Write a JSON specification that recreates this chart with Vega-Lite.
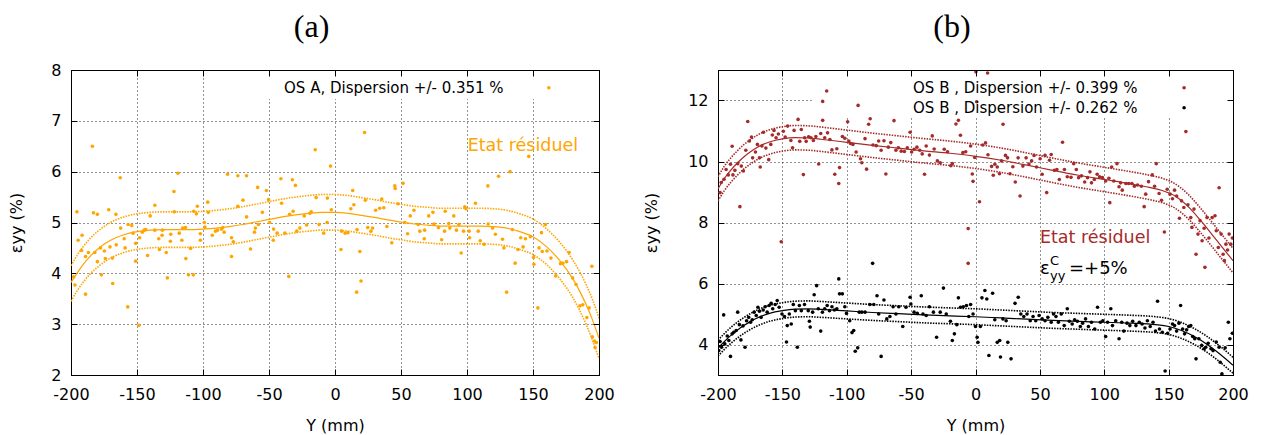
{
"$schema": "https://vega.github.io/schema/vega-lite/v6.json",
"padding": {"left": 8, "top": 10, "right": 5, "bottom": 5},
"background": "white",
"bounds": "flush",
"spacing": 119,
"config": {
 "view": {"stroke": "#000", "strokeWidth": 1},
 "axis": {"labelFont": "DejaVu Sans", "labelFontSize": 16, "labelColor": "#000", "titleFont": "DejaVu Sans", "titleFontSize": 16, "titleFontWeight": "normal", "titleColor": "#000", "tickColor": "#000", "tickSize": -6, "domainColor": "#000", "gridColor": "#000", "gridDash": [1, 3], "gridOpacity": 0.85, "labelFlush": false, "labelOverlap": false, "labelExpr": "replace(datum.label, '\u2212', '-')"},
 "title": {"font": "Liberation Serif", "fontSize": 32, "fontWeight": "normal", "color": "#000", "anchor": "middle", "frame": "bounds"}
},
"datasets": {
 "a_pts": [{"x":-198,"y":3.93},{"x":-197,"y":3.77},{"x":-195.5,"y":5.21},{"x":-194.6,"y":4.65},{"x":-191.6,"y":4.75},{"x":-192,"y":4.45},{"x":-189,"y":4.33},{"x":-189,"y":3.59},{"x":-186.8,"y":4.41},{"x":-183.8,"y":6.5},{"x":-183,"y":5.19},{"x":-182,"y":4.41},{"x":-180,"y":5.16},{"x":-180,"y":4.23},{"x":-177.7,"y":4.5},{"x":-177,"y":3.97},{"x":-174.7,"y":4.44},{"x":-174,"y":4.29},{"x":-171.4,"y":5.25},{"x":-170.5,"y":4.52},{"x":-168.7,"y":4.3},{"x":-168.4,"y":3.8},{"x":-166,"y":5.16},{"x":-165.7,"y":4.56},{"x":-162.7,"y":5.88},{"x":-162.4,"y":4.89},{"x":-159.7,"y":4.68},{"x":-159,"y":4.5},{"x":-157,"y":3.34},{"x":-156.7,"y":4.96},{"x":-154,"y":4.94},{"x":-153,"y":4.79},{"x":-151,"y":4.24},{"x":-151,"y":4.59},{"x":-148.5,"y":2.98},{"x":-148,"y":4.7},{"x":-146,"y":4.81},{"x":-144.6,"y":4.85},{"x":-143.4,"y":4.86},{"x":-142,"y":4.35},{"x":-140,"y":5.13},{"x":-136.5,"y":5.34},{"x":-136.5,"y":4.85},{"x":-133.5,"y":4.68},{"x":-133,"y":4.47},{"x":-131,"y":4.75},{"x":-130.8,"y":4.85},{"x":-127.8,"y":4.41},{"x":-127,"y":3.91},{"x":-124.7,"y":4.63},{"x":-124.4,"y":4.77},{"x":-122,"y":5.61},{"x":-121.7,"y":5.21},{"x":-119,"y":5.97},{"x":-118,"y":4.79},{"x":-116,"y":4.65},{"x":-115.4,"y":4.89},{"x":-113.3,"y":4.9},{"x":-113,"y":4.29},{"x":-111,"y":3.97},{"x":-109.4,"y":4.49},{"x":-107.3,"y":3.97},{"x":-107,"y":5.22},{"x":-105,"y":5.17},{"x":-104.3,"y":5.32},{"x":-102,"y":4.78},{"x":-102,"y":4.65},{"x":-99,"y":5.0},{"x":-98.5,"y":4.91},{"x":-96.4,"y":5.4},{"x":-96,"y":5.2},{"x":-93,"y":4.75},{"x":-90.5,"y":4.83},{"x":-89,"y":4.85},{"x":-86,"y":4.87},{"x":-85,"y":4.9},{"x":-84,"y":4.81},{"x":-81.4,"y":5.95},{"x":-78.4,"y":4.7},{"x":-78.4,"y":4.33},{"x":-77,"y":4.62},{"x":-73.6,"y":5.92},{"x":-73.6,"y":5.32},{"x":-69.7,"y":5.44},{"x":-67,"y":5.92},{"x":-67,"y":5.11},{"x":-64,"y":4.48},{"x":-61,"y":4.81},{"x":-60.3,"y":4.89},{"x":-58.6,"y":5.69},{"x":-58,"y":4.96},{"x":-55,"y":5.2},{"x":-52,"y":5.63},{"x":-50.4,"y":5.45},{"x":-49.5,"y":5.0},{"x":-46.8,"y":4.65},{"x":-46.5,"y":4.87},{"x":-43.8,"y":4.79},{"x":-41,"y":5.86},{"x":-40.5,"y":5.38},{"x":-38,"y":4.79},{"x":-35,"y":3.94},{"x":-34.4,"y":5.16},{"x":-32.3,"y":5.84},{"x":-31.7,"y":5.22},{"x":-30,"y":5.73},{"x":-29,"y":4.83},{"x":-26.6,"y":4.89},{"x":-23.3,"y":5.13},{"x":-21.5,"y":4.95},{"x":-19,"y":5.18},{"x":-18,"y":5.21},{"x":-15,"y":6.43},{"x":-14.3,"y":5.49},{"x":-12,"y":4.96},{"x":-8.6,"y":4.79},{"x":-6,"y":5.0},{"x":-5.8,"y":5.48},{"x":-3.4,"y":6.11},{"x":-2.8,"y":5.25},{"x":4.5,"y":4.47},{"x":5,"y":4.83},{"x":7.7,"y":4.79},{"x":9.8,"y":4.8},{"x":12,"y":5.27},{"x":13.4,"y":5.63},{"x":14.3,"y":5.35},{"x":16.4,"y":3.63},{"x":16.7,"y":4.86},{"x":18.8,"y":4.43},{"x":19.7,"y":3.85},{"x":22.4,"y":6.77},{"x":23,"y":5.44},{"x":24.8,"y":4.9},{"x":27.2,"y":4.83},{"x":28.5,"y":4.89},{"x":30.8,"y":5.24},{"x":33.9,"y":5.28},{"x":35.4,"y":5.46},{"x":37,"y":5.29},{"x":39.3,"y":4.92},{"x":43,"y":4.6},{"x":45.3,"y":5.72},{"x":45.6,"y":5.67},{"x":47.7,"y":5.37},{"x":51.6,"y":5.77},{"x":52.8,"y":5.0},{"x":55,"y":4.78},{"x":57,"y":5.13},{"x":59.8,"y":5.24},{"x":63,"y":4.96},{"x":64.3,"y":4.83},{"x":67.6,"y":4.68},{"x":67.9,"y":4.85},{"x":71,"y":5.13},{"x":74.2,"y":5.2},{"x":75,"y":4.97},{"x":78.4,"y":4.9},{"x":80.8,"y":4.66},{"x":83,"y":4.83},{"x":83.5,"y":5.22},{"x":86.2,"y":4.98},{"x":87,"y":4.89},{"x":90,"y":5.13},{"x":92,"y":4.85},{"x":93.8,"y":4.96},{"x":95.6,"y":4.4},{"x":97.4,"y":4.83},{"x":98.3,"y":5.31},{"x":99.2,"y":5.27},{"x":101.6,"y":4.83},{"x":102,"y":4.7},{"x":106.4,"y":5.38},{"x":108.5,"y":4.83},{"x":110,"y":4.64},{"x":113,"y":4.57},{"x":115.8,"y":5.72},{"x":116,"y":4.97},{"x":119.4,"y":4.89},{"x":121.5,"y":4.77},{"x":123.9,"y":5.91},{"x":126.9,"y":4.67},{"x":128,"y":4.5},{"x":130,"y":3.63},{"x":132.6,"y":6.0},{"x":134.4,"y":4.86},{"x":136.5,"y":4.2},{"x":138.6,"y":4.47},{"x":140.7,"y":4.7},{"x":142.5,"y":4.52},{"x":144.3,"y":4.68},{"x":146.8,"y":6.3},{"x":148,"y":4.72},{"x":150.4,"y":4.31},{"x":150.7,"y":4.18},{"x":153.7,"y":3.32},{"x":154.6,"y":4.5},{"x":156.4,"y":4.8},{"x":157,"y":4.43},{"x":159.4,"y":4.96},{"x":160.6,"y":4.44},{"x":163.6,"y":4.3},{"x":167.2,"y":3.95},{"x":170.8,"y":4.19},{"x":172.6,"y":4.2},{"x":175.4,"y":4.23},{"x":177.4,"y":4.41},{"x":180,"y":3.91},{"x":182.6,"y":3.78},{"x":185.6,"y":3.36},{"x":187.7,"y":3.38},{"x":190.8,"y":3.13},{"x":192.5,"y":3.32},{"x":194.6,"y":4.14},{"x":195,"y":2.75},{"x":196.4,"y":2.67},{"x":197,"y":2.54},{"x":198,"y":2.64}],
 "a_fit": [{"x":-200,"y":3.82,"lo":3.45,"hi":4.15},{"x":-195,"y":4.02,"lo":3.67,"hi":4.37},{"x":-190,"y":4.2,"lo":3.85,"hi":4.55},{"x":-185,"y":4.35,"lo":4.0,"hi":4.7},{"x":-180,"y":4.47,"lo":4.12,"hi":4.82},{"x":-175,"y":4.57,"lo":4.22,"hi":4.92},{"x":-170,"y":4.65,"lo":4.3,"hi":5.0},{"x":-160,"y":4.76,"lo":4.41,"hi":5.11},{"x":-150,"y":4.82,"lo":4.47,"hi":5.17},{"x":-140,"y":4.85,"lo":4.5,"hi":5.2},{"x":-130,"y":4.86,"lo":4.51,"hi":5.21},{"x":-120,"y":4.86,"lo":4.51,"hi":5.21},{"x":-110,"y":4.86,"lo":4.51,"hi":5.21},{"x":-100,"y":4.87,"lo":4.52,"hi":5.22},{"x":-90,"y":4.89,"lo":4.54,"hi":5.24},{"x":-80,"y":4.92,"lo":4.57,"hi":5.27},{"x":-70,"y":4.96,"lo":4.61,"hi":5.31},{"x":-60,"y":5.01,"lo":4.66,"hi":5.36},{"x":-50,"y":5.06,"lo":4.71,"hi":5.41},{"x":-40,"y":5.11,"lo":4.76,"hi":5.46},{"x":-30,"y":5.15,"lo":4.8,"hi":5.5},{"x":-20,"y":5.18,"lo":4.83,"hi":5.53},{"x":-10,"y":5.2,"lo":4.85,"hi":5.55},{"x":0,"y":5.2,"lo":4.85,"hi":5.55},{"x":10,"y":5.18,"lo":4.83,"hi":5.53},{"x":20,"y":5.14,"lo":4.79,"hi":5.49},{"x":30,"y":5.1,"lo":4.75,"hi":5.45},{"x":40,"y":5.05,"lo":4.7,"hi":5.4},{"x":50,"y":5.01,"lo":4.66,"hi":5.36},{"x":60,"y":4.97,"lo":4.62,"hi":5.32},{"x":70,"y":4.95,"lo":4.6,"hi":5.3},{"x":80,"y":4.93,"lo":4.58,"hi":5.28},{"x":90,"y":4.93,"lo":4.58,"hi":5.28},{"x":100,"y":4.93,"lo":4.58,"hi":5.28},{"x":110,"y":4.93,"lo":4.58,"hi":5.28},{"x":120,"y":4.92,"lo":4.57,"hi":5.27},{"x":130,"y":4.89,"lo":4.54,"hi":5.24},{"x":140,"y":4.82,"lo":4.47,"hi":5.17},{"x":150,"y":4.72,"lo":4.37,"hi":5.07},{"x":160,"y":4.53,"lo":4.18,"hi":4.88},{"x":170,"y":4.26,"lo":3.9,"hi":4.62},{"x":180,"y":3.9,"lo":3.53,"hi":4.27},{"x":185,"y":3.67,"lo":3.29,"hi":4.05},{"x":190,"y":3.4,"lo":3.01,"hi":3.79},{"x":195,"y":3.09,"lo":2.69,"hi":3.49},{"x":200,"y":2.72,"lo":2.32,"hi":3.12}],
 "b_red": [{"x":-198.4,"y":8.98},{"x":-197.5,"y":9.31},{"x":-195.3,"y":9.42},{"x":-193.7,"y":9.74},{"x":-192,"y":9.56},{"x":-190.3,"y":9.91},{"x":-189,"y":10.5},{"x":-188.4,"y":9.56},{"x":-186.9,"y":9.71},{"x":-184.7,"y":9.93},{"x":-183,"y":8.52},{"x":-181.9,"y":9.85},{"x":-180.3,"y":9.69},{"x":-178.4,"y":10.37},{"x":-176.9,"y":11.31},{"x":-175.6,"y":10.67},{"x":-174,"y":10.8},{"x":-173.1,"y":10.12},{"x":-170.9,"y":10.31},{"x":-169.4,"y":10.56},{"x":-167.8,"y":10.12},{"x":-167.2,"y":9.82},{"x":-165.9,"y":10.51},{"x":-164.7,"y":10.96},{"x":-162.8,"y":10.44},{"x":-160.6,"y":10.06},{"x":-159,"y":10.56},{"x":-157.8,"y":10.87},{"x":-156.5,"y":11.02},{"x":-154.9,"y":10.78},{"x":-153.1,"y":10.9},{"x":-150.9,"y":7.37},{"x":-149.3,"y":10.99},{"x":-147.8,"y":10.8},{"x":-145.9,"y":11.16},{"x":-143.4,"y":10.69},{"x":-142.1,"y":10.45},{"x":-140.9,"y":11.02},{"x":-137.8,"y":11.38},{"x":-136.5,"y":10.66},{"x":-135.3,"y":11.05},{"x":-133.7,"y":9.57},{"x":-132.7,"y":10.78},{"x":-131.5,"y":10.66},{"x":-129.6,"y":10.81},{"x":-127.8,"y":10.78},{"x":-125.9,"y":10.69},{"x":-124,"y":10.82},{"x":-121.8,"y":9.92},{"x":-120.2,"y":10.92},{"x":-118.7,"y":11.97},{"x":-118.7,"y":11.35},{"x":-117.1,"y":10.78},{"x":-115.6,"y":12.31},{"x":-114.9,"y":10.94},{"x":-113.1,"y":10.72},{"x":-111.5,"y":10.38},{"x":-109.3,"y":9.58},{"x":-107.7,"y":10.42},{"x":-106.2,"y":9.28},{"x":-105.6,"y":9.8},{"x":-103.4,"y":10.82},{"x":-101.5,"y":10.76},{"x":-99.3,"y":11.3},{"x":-98.4,"y":10.67},{"x":-97.1,"y":10.59},{"x":-95.2,"y":10.56},{"x":-92.7,"y":10.31},{"x":-91.2,"y":11.84},{"x":-89.3,"y":10.09},{"x":-88.3,"y":9.96},{"x":-85.8,"y":10.75},{"x":-84.6,"y":9.75},{"x":-83,"y":11.22},{"x":-81.8,"y":11.4},{"x":-79.6,"y":10.54},{"x":-77.1,"y":10.52},{"x":-75.2,"y":10.67},{"x":-73.3,"y":10.37},{"x":-71.1,"y":10.68},{"x":-69.6,"y":9.59},{"x":-67.7,"y":10.47},{"x":-65.8,"y":10.62},{"x":-63.3,"y":11.34},{"x":-61.8,"y":10.37},{"x":-59.9,"y":10.45},{"x":-57.7,"y":10.34},{"x":-55.2,"y":10.33},{"x":-53,"y":10.45},{"x":-50.8,"y":10.96},{"x":-49.6,"y":10.31},{"x":-47.7,"y":10.4},{"x":-45.5,"y":10.47},{"x":-43.3,"y":10.37},{"x":-41.4,"y":10.25},{"x":-39.6,"y":9.58},{"x":-38.3,"y":10.51},{"x":-35.8,"y":10.21},{"x":-33.6,"y":10.84},{"x":-32.1,"y":10.41},{"x":-29.6,"y":10.02},{"x":-27.4,"y":9.96},{"x":-24.3,"y":10.4},{"x":-21.7,"y":10.32},{"x":-19.2,"y":9.86},{"x":-18,"y":9.93},{"x":-15.2,"y":11.23},{"x":-13.3,"y":11.35},{"x":-11.7,"y":10.86},{"x":-9.8,"y":10.29},{"x":-7.6,"y":10.32},{"x":-5.7,"y":7.8},{"x":-5.7,"y":6.66},{"x":-3.8,"y":10.51},{"x":-2.5,"y":9.59},{"x":-1.9,"y":9.35},{"x":-0.6,"y":10.13},{"x":0.3,"y":12.94},{"x":0.9,"y":11.96},{"x":3.1,"y":8.68},{"x":5.6,"y":10.54},{"x":7.8,"y":10.61},{"x":9.4,"y":12.9},{"x":9.7,"y":10.22},{"x":12.5,"y":9.84},{"x":13.8,"y":9.55},{"x":15,"y":9.91},{"x":16.9,"y":9.82},{"x":18.6,"y":9.6},{"x":20.2,"y":10.02},{"x":21.4,"y":11.22},{"x":23.3,"y":10.2},{"x":24.9,"y":10.12},{"x":26.8,"y":9.6},{"x":29,"y":9.83},{"x":30.9,"y":9.33},{"x":33.1,"y":10.12},{"x":34.6,"y":8.87},{"x":36.8,"y":9.85},{"x":39.3,"y":10.12},{"x":41.5,"y":9.92},{"x":43.6,"y":10.02},{"x":45.5,"y":10.2},{"x":47.4,"y":9.82},{"x":50.2,"y":10.09},{"x":51.8,"y":9.58},{"x":54,"y":10.2},{"x":55.3,"y":8.98},{"x":57.5,"y":10.04},{"x":58.8,"y":10.23},{"x":61.3,"y":9.71},{"x":63.2,"y":9.74},{"x":65.1,"y":9.41},{"x":67.6,"y":10.63},{"x":69.1,"y":9.74},{"x":71.3,"y":9.5},{"x":74.2,"y":9.48},{"x":76.3,"y":9.93},{"x":78.3,"y":9.74},{"x":80.1,"y":9.47},{"x":82.3,"y":9.53},{"x":84.8,"y":9.33},{"x":87,"y":9.47},{"x":88.9,"y":9.66},{"x":90.1,"y":9.3},{"x":92.3,"y":9.41},{"x":94.5,"y":9.58},{"x":96.4,"y":9.5},{"x":98.6,"y":9.47},{"x":101.1,"y":9.36},{"x":103.6,"y":9.45},{"x":104.3,"y":8.65},{"x":105.8,"y":9.82},{"x":107.4,"y":9.36},{"x":109.9,"y":9.93},{"x":111.5,"y":9.17},{"x":112.7,"y":9.3},{"x":114,"y":9.06},{"x":116.8,"y":9.28},{"x":119,"y":9.28},{"x":121.5,"y":9.28},{"x":123.4,"y":9.19},{"x":125.9,"y":9.23},{"x":128.8,"y":9.19},{"x":131,"y":8.52},{"x":132.2,"y":8.93},{"x":134.4,"y":9.34},{"x":137.3,"y":9.56},{"x":139.1,"y":9.19},{"x":140.4,"y":9.93},{"x":142.6,"y":8.95},{"x":144.5,"y":8.73},{"x":146.7,"y":7.69},{"x":148.9,"y":9.09},{"x":151.1,"y":8.93},{"x":153,"y":8.78},{"x":154.6,"y":9.06},{"x":156.2,"y":8.87},{"x":158.4,"y":8.14},{"x":160,"y":8.71},{"x":161.8,"y":8.49},{"x":163.4,"y":10.98},{"x":165,"y":8.58},{"x":167.2,"y":8.16},{"x":168.1,"y":7.84},{"x":169.7,"y":8.44},{"x":171.3,"y":6.96},{"x":172.8,"y":7.62},{"x":174.4,"y":8.06},{"x":176,"y":7.4},{"x":177.6,"y":7.81},{"x":178.2,"y":6.53},{"x":179.8,"y":8.16},{"x":181.3,"y":7.49},{"x":183.8,"y":8.16},{"x":186,"y":8.22},{"x":187,"y":7.73},{"x":188.6,"y":7.18},{"x":189.2,"y":9.14},{"x":190.8,"y":7.62},{"x":192.3,"y":6.96},{"x":193.3,"y":6.75},{"x":194.5,"y":7.29},{"x":195.8,"y":7.1},{"x":197,"y":7.62},{"x":198.3,"y":7.29},{"x":199.5,"y":7.49}],
 "b_blk": [{"x":-199.4,"y":3.8},{"x":-198.4,"y":4.1},{"x":-197.2,"y":3.91},{"x":-195.6,"y":4.97},{"x":-194.7,"y":4.02},{"x":-192.8,"y":4.28},{"x":-191.6,"y":4.13},{"x":-190.3,"y":3.61},{"x":-189,"y":4.35},{"x":-187.8,"y":4.4},{"x":-185.9,"y":4.46},{"x":-184.7,"y":5.06},{"x":-183.4,"y":4.65},{"x":-182.2,"y":4.15},{"x":-180.6,"y":4.61},{"x":-179,"y":3.91},{"x":-177.8,"y":4.78},{"x":-176.2,"y":4.89},{"x":-174.7,"y":4.73},{"x":-173.4,"y":4.81},{"x":-171.9,"y":5.06},{"x":-170.3,"y":4.95},{"x":-169,"y":5.22},{"x":-167.8,"y":5.09},{"x":-166.5,"y":4.89},{"x":-164.9,"y":5.13},{"x":-163.4,"y":5.24},{"x":-161.8,"y":5.06},{"x":-160.3,"y":5.28},{"x":-158.7,"y":5.35},{"x":-157.5,"y":5.17},{"x":-155.6,"y":5.31},{"x":-154,"y":5.44},{"x":-152.5,"y":5.22},{"x":-150.3,"y":5.0},{"x":-148.4,"y":4.92},{"x":-146.8,"y":4.08},{"x":-146.2,"y":4.62},{"x":-144.6,"y":5.0},{"x":-143.1,"y":4.67},{"x":-141.5,"y":5.31},{"x":-139.9,"y":5.11},{"x":-138.4,"y":3.91},{"x":-136.8,"y":5.28},{"x":-135.3,"y":5.11},{"x":-132.8,"y":5.31},{"x":-129.9,"y":5.11},{"x":-129,"y":4.76},{"x":-128.4,"y":4.57},{"x":-126.5,"y":5.06},{"x":-125.3,"y":5.63},{"x":-123.4,"y":5.93},{"x":-122.1,"y":5.17},{"x":-120.2,"y":4.44},{"x":-118.9,"y":5.06},{"x":-117.1,"y":5.17},{"x":-115.2,"y":5.28},{"x":-113.4,"y":5.11},{"x":-111.5,"y":5.24},{"x":-109.6,"y":5.13},{"x":-107.7,"y":5.17},{"x":-106.2,"y":6.15},{"x":-105.6,"y":5.66},{"x":-103.4,"y":5.66},{"x":-101.5,"y":5.24},{"x":-100.2,"y":5.02},{"x":-97.7,"y":4.78},{"x":-95.9,"y":4.39},{"x":-94.6,"y":4.46},{"x":-93.4,"y":3.78},{"x":-91.5,"y":3.89},{"x":-90.3,"y":5.06},{"x":-88.3,"y":5.06},{"x":-85.8,"y":5.06},{"x":-82.1,"y":5.31},{"x":-79.9,"y":6.66},{"x":-79,"y":5.31},{"x":-76.5,"y":5.6},{"x":-75.2,"y":5.0},{"x":-73.3,"y":3.61},{"x":-71.1,"y":5.46},{"x":-68.9,"y":4.84},{"x":-66.5,"y":4.92},{"x":-64,"y":5.24},{"x":-61.8,"y":5.0},{"x":-59.6,"y":5.24},{"x":-56.5,"y":4.59},{"x":-54,"y":5.22},{"x":-50.8,"y":5.55},{"x":-50.2,"y":5.33},{"x":-47.7,"y":5.06},{"x":-45.2,"y":5.02},{"x":-42.1,"y":5.6},{"x":-40.8,"y":5.0},{"x":-38.3,"y":4.95},{"x":-35.8,"y":5.24},{"x":-32.7,"y":5.06},{"x":-30.2,"y":4.24},{"x":-27.4,"y":5.06},{"x":-24.9,"y":5.85},{"x":-22.7,"y":5.0},{"x":-19.5,"y":4.76},{"x":-18,"y":4.13},{"x":-16.4,"y":4.35},{"x":-14.5,"y":4.65},{"x":-13.3,"y":5.53},{"x":-11.7,"y":5.22},{"x":-9.5,"y":5.24},{"x":-7,"y":5.28},{"x":-5.2,"y":4.92},{"x":-3.8,"y":5.31},{"x":-1.9,"y":5.0},{"x":0,"y":4.59},{"x":1.3,"y":4.24},{"x":1.9,"y":4.07},{"x":3.8,"y":4.59},{"x":5,"y":5.53},{"x":7.3,"y":5.77},{"x":8.8,"y":5.49},{"x":10.4,"y":3.64},{"x":13.3,"y":5.68},{"x":15,"y":4.81},{"x":16.9,"y":4.07},{"x":18.8,"y":4.13},{"x":19.4,"y":3.59},{"x":21.3,"y":4.84},{"x":23.8,"y":4.78},{"x":25.1,"y":4.07},{"x":27.6,"y":3.53},{"x":30.7,"y":5.35},{"x":33.2,"y":5.55},{"x":35.2,"y":5.0},{"x":37.5,"y":4.92},{"x":40,"y":5.0},{"x":42.5,"y":4.78},{"x":44.7,"y":4.92},{"x":46.8,"y":4.78},{"x":49.4,"y":4.95},{"x":51.8,"y":4.84},{"x":54,"y":4.78},{"x":56.2,"y":4.89},{"x":58.8,"y":4.73},{"x":60.6,"y":5.0},{"x":62.5,"y":4.92},{"x":64.4,"y":4.73},{"x":66.6,"y":5.0},{"x":68.9,"y":4.62},{"x":71.3,"y":5.17},{"x":72.9,"y":4.76},{"x":75.1,"y":4.67},{"x":77,"y":4.81},{"x":79.1,"y":4.76},{"x":81.4,"y":4.59},{"x":83.2,"y":4.7},{"x":85.5,"y":4.84},{"x":87.7,"y":4.59},{"x":90.1,"y":4.73},{"x":92.6,"y":4.51},{"x":94.8,"y":5.22},{"x":97,"y":4.73},{"x":98.9,"y":4.78},{"x":101.1,"y":4.26},{"x":102.6,"y":4.73},{"x":105.1,"y":5.17},{"x":106.4,"y":4.62},{"x":108.9,"y":4.78},{"x":111.5,"y":4.19},{"x":113.6,"y":4.73},{"x":115.2,"y":4.44},{"x":117.7,"y":4.7},{"x":119.9,"y":4.62},{"x":122.1,"y":4.76},{"x":124.6,"y":4.62},{"x":127.2,"y":4.73},{"x":129.4,"y":4.67},{"x":131.6,"y":4.54},{"x":133.5,"y":4.78},{"x":135.7,"y":4.59},{"x":137.9,"y":4.73},{"x":139.8,"y":4.44},{"x":141.4,"y":5.42},{"x":142.9,"y":4.51},{"x":145.1,"y":4.4},{"x":147.3,"y":3.13},{"x":149.2,"y":4.37},{"x":151.1,"y":4.51},{"x":153,"y":4.67},{"x":154.6,"y":4.62},{"x":156.2,"y":4.44},{"x":158,"y":4.7},{"x":159.3,"y":5.28},{"x":160.9,"y":4.51},{"x":162.4,"y":4.35},{"x":164,"y":4.48},{"x":165.6,"y":4.59},{"x":167.2,"y":4.62},{"x":168.7,"y":4.26},{"x":170.3,"y":4.19},{"x":171.3,"y":3.53},{"x":173.5,"y":4.19},{"x":175.7,"y":3.97},{"x":177.6,"y":3.86},{"x":178.8,"y":3.91},{"x":180.7,"y":4.04},{"x":182.9,"y":3.86},{"x":184.5,"y":3.8},{"x":187,"y":4.08},{"x":189.2,"y":3.91},{"x":190.1,"y":3.42},{"x":191.4,"y":3.04},{"x":193.9,"y":3.89},{"x":196.4,"y":4.73},{"x":197.6,"y":4.19},{"x":199.5,"y":4.37}],
 "b_redfit": [{"x":-200,"y":9.1,"lo":8.7,"hi":9.5},{"x":-195,"y":9.45,"lo":9.05,"hi":9.85},{"x":-190,"y":9.72,"lo":9.32,"hi":10.12},{"x":-185,"y":9.95,"lo":9.55,"hi":10.35},{"x":-180,"y":10.15,"lo":9.75,"hi":10.55},{"x":-175,"y":10.31,"lo":9.91,"hi":10.71},{"x":-170,"y":10.45,"lo":10.05,"hi":10.85},{"x":-165,"y":10.56,"lo":10.16,"hi":10.96},{"x":-160,"y":10.64,"lo":10.24,"hi":11.04},{"x":-150,"y":10.74,"lo":10.34,"hi":11.14},{"x":-140,"y":10.78,"lo":10.38,"hi":11.18},{"x":-130,"y":10.77,"lo":10.37,"hi":11.17},{"x":-120,"y":10.73,"lo":10.33,"hi":11.13},{"x":-110,"y":10.68,"lo":10.28,"hi":11.08},{"x":-100,"y":10.63,"lo":10.23,"hi":11.03},{"x":-80,"y":10.53,"lo":10.13,"hi":10.93},{"x":-60,"y":10.44,"lo":10.04,"hi":10.84},{"x":-40,"y":10.35,"lo":9.95,"hi":10.75},{"x":-20,"y":10.27,"lo":9.87,"hi":10.67},{"x":0,"y":10.17,"lo":9.77,"hi":10.57},{"x":20,"y":10.04,"lo":9.64,"hi":10.44},{"x":40,"y":9.88,"lo":9.48,"hi":10.28},{"x":60,"y":9.71,"lo":9.31,"hi":10.11},{"x":80,"y":9.55,"lo":9.15,"hi":9.95},{"x":100,"y":9.41,"lo":9.01,"hi":9.81},{"x":120,"y":9.27,"lo":8.87,"hi":9.67},{"x":135,"y":9.15,"lo":8.75,"hi":9.55},{"x":145,"y":9.05,"lo":8.65,"hi":9.45},{"x":155,"y":8.87,"lo":8.47,"hi":9.27},{"x":165,"y":8.53,"lo":8.13,"hi":8.93},{"x":175,"y":8.06,"lo":7.66,"hi":8.46},{"x":185,"y":7.54,"lo":7.14,"hi":7.94},{"x":192,"y":7.17,"lo":6.77,"hi":7.57},{"x":200,"y":6.75,"lo":6.35,"hi":7.15}],
 "b_blkfit": [{"x":-200,"y":3.88,"lo":3.62,"hi":4.14},{"x":-195,"y":4.1,"lo":3.84,"hi":4.36},{"x":-190,"y":4.3,"lo":4.04,"hi":4.56},{"x":-185,"y":4.47,"lo":4.21,"hi":4.73},{"x":-180,"y":4.62,"lo":4.36,"hi":4.88},{"x":-175,"y":4.75,"lo":4.49,"hi":5.01},{"x":-170,"y":4.86,"lo":4.6,"hi":5.12},{"x":-160,"y":5.02,"lo":4.76,"hi":5.28},{"x":-150,"y":5.11,"lo":4.85,"hi":5.37},{"x":-140,"y":5.16,"lo":4.9,"hi":5.42},{"x":-130,"y":5.17,"lo":4.91,"hi":5.43},{"x":-120,"y":5.15,"lo":4.89,"hi":5.41},{"x":-100,"y":5.1,"lo":4.84,"hi":5.36},{"x":-80,"y":5.05,"lo":4.79,"hi":5.31},{"x":-60,"y":5.01,"lo":4.75,"hi":5.27},{"x":-40,"y":4.97,"lo":4.71,"hi":5.23},{"x":-20,"y":4.94,"lo":4.68,"hi":5.2},{"x":0,"y":4.91,"lo":4.65,"hi":5.17},{"x":20,"y":4.87,"lo":4.61,"hi":5.13},{"x":40,"y":4.83,"lo":4.57,"hi":5.09},{"x":60,"y":4.79,"lo":4.53,"hi":5.05},{"x":80,"y":4.76,"lo":4.5,"hi":5.02},{"x":100,"y":4.73,"lo":4.47,"hi":4.99},{"x":120,"y":4.7,"lo":4.44,"hi":4.96},{"x":140,"y":4.65,"lo":4.39,"hi":4.91},{"x":150,"y":4.59,"lo":4.33,"hi":4.85},{"x":160,"y":4.46,"lo":4.2,"hi":4.72},{"x":170,"y":4.26,"lo":4.0,"hi":4.52},{"x":180,"y":4.0,"lo":3.74,"hi":4.26},{"x":190,"y":3.68,"lo":3.42,"hi":3.94},{"x":200,"y":3.32,"lo":3.06,"hi":3.58}]
},
"hconcat": [
 {
  "width": 528, "height": 305,
  "title": {"text": "(a)", "offset": 18},
  "encoding": {
   "x": {"field": "x", "type": "quantitative", "scale": {"domain": [-200, 200], "nice": false, "zero": false}, "axis": null},
   "y": {"field": "y", "type": "quantitative", "scale": {"domain": [2, 8], "nice": false, "zero": false}, "axis": null}
  },
  "resolve": {"axis": {"x": "independent", "y": "independent"}},
  "layer": [
   {"data": {"values": [{"x": -55, "x2": 200, "y": 7.43, "y2": 8}]},
    "mark": {"type": "rect", "fill": "white", "stroke": null},
    "encoding": {
     "x": {"field": "x", "type": "quantitative", "scale": {"domain": [-200, 200], "nice": false, "zero": false}, "axis": {"values": [-200,-150,-100,-50,0,50,100,150,200], "title": "Y (mm)", "grid": true, "labelPadding": 17, "titlePadding": 15}},
     "x2": {"field": "x2"},
     "y": {"field": "y", "type": "quantitative", "scale": {"domain": [2, 8], "nice": false, "zero": false}, "axis": {"values": [2,3,4,5,6,7,8], "title": "εyy (%)", "grid": true, "labelPadding": 16, "titlePadding": 26}},
     "y2": {"field": "y2"}
    }},
   {"data": {"name": "a_fit"},
    "mark": {"type": "line", "color": "#ffa500", "strokeWidth": 1.2, "interpolate": "monotone", "clip": true},
    "encoding": {
     "x": {"field": "x", "type": "quantitative", "scale": {"domain": [-200, 200], "nice": false, "zero": false}, "axis": {"orient": "top", "values": [-200,-150,-100,-50,0,50,100,150,200], "labels": false, "grid": false, "title": null, "zindex": 1}},
     "y": {"field": "y", "type": "quantitative", "scale": {"domain": [2, 8], "nice": false, "zero": false}, "axis": {"orient": "right", "values": [2,3,4,5,6,7,8], "labels": false, "grid": false, "title": null, "zindex": 1}}
    }},
   {"data": {"name": "a_fit"},
    "mark": {"type": "line", "color": "#ffa500", "strokeWidth": 1.6, "strokeDash": [1.5, 1.2], "interpolate": "monotone", "clip": true},
    "encoding": {"y": {"field": "hi", "type": "quantitative", "scale": {"domain": [2, 8], "nice": false, "zero": false}, "axis": null}}},
   {"data": {"name": "a_fit"},
    "mark": {"type": "line", "color": "#ffa500", "strokeWidth": 1.6, "strokeDash": [1.5, 1.2], "interpolate": "monotone", "clip": true},
    "encoding": {"y": {"field": "lo", "type": "quantitative", "scale": {"domain": [2, 8], "nice": false, "zero": false}, "axis": null}}},
   {"data": {"name": "a_pts"},
    "mark": {"type": "circle", "color": "#ffa500", "size": 13, "opacity": 1, "clip": true}},
   {"data": {"values": [{"x": -38.6, "y": 7.65, "label": "OS A, Dispersion +/- 0.351 %"}]},
    "mark": {"type": "text", "align": "left", "baseline": "middle", "font": "DejaVu Sans", "fontSize": 15, "color": "#000"},
    "encoding": {"text": {"field": "label"}}},
   {"data": {"values": [{"x": 162, "y": 7.65}]},
    "mark": {"type": "circle", "color": "#ffa500", "size": 13, "opacity": 1}},
   {"data": {"values": [{"x": 100.5, "y": 6.5, "label": "Etat résiduel"}]},
    "mark": {"type": "text", "align": "left", "baseline": "middle", "font": "DejaVu Sans", "fontSize": 17.5, "color": "#ffa500"},
    "encoding": {"text": {"field": "label"}}}
  ]
 },
 {
  "width": 515, "height": 305,
  "title": {"text": "(b)", "offset": 26, "dx": 6},
  "encoding": {
   "x": {"field": "x", "type": "quantitative", "scale": {"domain": [-200, 200], "nice": false, "zero": false}, "axis": null},
   "y": {"field": "y", "type": "quantitative", "scale": {"domain": [3, 13], "nice": false, "zero": false}, "axis": null}
  },
  "resolve": {"axis": {"x": "independent", "y": "independent"}},
  "layer": [
   {"data": {"values": [{"x": -127, "x2": 200, "y": 11.49, "y2": 13}]},
    "mark": {"type": "rect", "fill": "white", "stroke": null},
    "encoding": {
     "x": {"field": "x", "type": "quantitative", "scale": {"domain": [-200, 200], "nice": false, "zero": false}, "axis": {"values": [-200,-150,-100,-50,0,50,100,150,200], "title": "Y (mm)", "grid": true, "labelPadding": 17, "titlePadding": 15}},
     "x2": {"field": "x2"},
     "y": {"field": "y", "type": "quantitative", "scale": {"domain": [3, 13], "nice": false, "zero": false}, "axis": {"values": [4,6,8,10,12], "title": "εyy (%)", "grid": true, "labelPadding": 16, "titlePadding": 28}},
     "y2": {"field": "y2"}
    }},
   {"data": {"name": "b_redfit"},
    "mark": {"type": "line", "color": "#a52a2a", "strokeWidth": 1.2, "interpolate": "monotone", "clip": true},
    "encoding": {
     "x": {"field": "x", "type": "quantitative", "scale": {"domain": [-200, 200], "nice": false, "zero": false}, "axis": {"orient": "top", "values": [-200,-150,-100,-50,0,50,100,150,200], "labels": false, "grid": false, "title": null, "zindex": 1}},
     "y": {"field": "y", "type": "quantitative", "scale": {"domain": [3, 13], "nice": false, "zero": false}, "axis": {"orient": "right", "values": [4,6,8,10,12], "labels": false, "grid": false, "title": null, "zindex": 1}}
    }},
   {"data": {"name": "b_redfit"},
    "mark": {"type": "line", "color": "#a52a2a", "strokeWidth": 1.6, "strokeDash": [1.5, 1.2], "interpolate": "monotone", "clip": true},
    "encoding": {"y": {"field": "hi", "type": "quantitative", "scale": {"domain": [3, 13], "nice": false, "zero": false}, "axis": null}}},
   {"data": {"name": "b_redfit"},
    "mark": {"type": "line", "color": "#a52a2a", "strokeWidth": 1.6, "strokeDash": [1.5, 1.2], "interpolate": "monotone", "clip": true},
    "encoding": {"y": {"field": "lo", "type": "quantitative", "scale": {"domain": [3, 13], "nice": false, "zero": false}, "axis": null}}},
   {"data": {"name": "b_blkfit"},
    "mark": {"type": "line", "color": "#000", "strokeWidth": 1.2, "interpolate": "monotone", "clip": true}},
   {"data": {"name": "b_blkfit"},
    "mark": {"type": "line", "color": "#000", "strokeWidth": 1.6, "strokeDash": [1.5, 1.2], "interpolate": "monotone", "clip": true},
    "encoding": {"y": {"field": "hi", "type": "quantitative", "scale": {"domain": [3, 13], "nice": false, "zero": false}, "axis": null}}},
   {"data": {"name": "b_blkfit"},
    "mark": {"type": "line", "color": "#000", "strokeWidth": 1.6, "strokeDash": [1.5, 1.2], "interpolate": "monotone", "clip": true},
    "encoding": {"y": {"field": "lo", "type": "quantitative", "scale": {"domain": [3, 13], "nice": false, "zero": false}, "axis": null}}},
   {"data": {"name": "b_red"},
    "mark": {"type": "circle", "color": "#a52a2a", "size": 13, "opacity": 1, "clip": true}},
   {"data": {"name": "b_blk"},
    "mark": {"type": "circle", "color": "#000", "size": 13, "opacity": 1, "clip": true}},
   {"data": {"values": [{"x": -48.5, "y": 12.42, "label": "OS B , Dispersion +/- 0.399 %"}, {"x": -48.5, "y": 11.76, "label": "OS B , Dispersion +/- 0.262 %"}]},
    "mark": {"type": "text", "align": "left", "baseline": "middle", "font": "DejaVu Sans", "fontSize": 15, "color": "#000"},
    "encoding": {"text": {"field": "label"}}},
   {"data": {"values": [{"x": 162, "y": 12.42}]},
    "mark": {"type": "circle", "color": "#a52a2a", "size": 13, "opacity": 1}},
   {"data": {"values": [{"x": 162, "y": 11.76}]},
    "mark": {"type": "circle", "color": "#000", "size": 13, "opacity": 1}},
   {"data": {"values": [{"x": 50, "y": 7.49, "label": "Etat résiduel"}]},
    "mark": {"type": "text", "align": "left", "baseline": "middle", "font": "DejaVu Sans", "fontSize": 17.5, "color": "#a52a2a"},
    "encoding": {"text": {"field": "label"}}},
   {"data": {"values": [{"x": 50, "y": 6.31, "label": "ε"}, {"x": 72.6, "y": 6.31, "label": "=+5%"}]},
    "mark": {"type": "text", "align": "left", "baseline": "alphabetic", "font": "DejaVu Sans", "fontSize": 18, "color": "#000"},
    "encoding": {"text": {"field": "label"}}},
   {"data": {"values": [{"x": 57.9, "y": 6.62, "label": "C"}, {"x": 57.9, "y": 6.12, "label": "yy"}]},
    "mark": {"type": "text", "align": "left", "baseline": "alphabetic", "font": "DejaVu Sans", "fontSize": 13, "color": "#000"},
    "encoding": {"text": {"field": "label"}}}
  ]
 }
]
}
